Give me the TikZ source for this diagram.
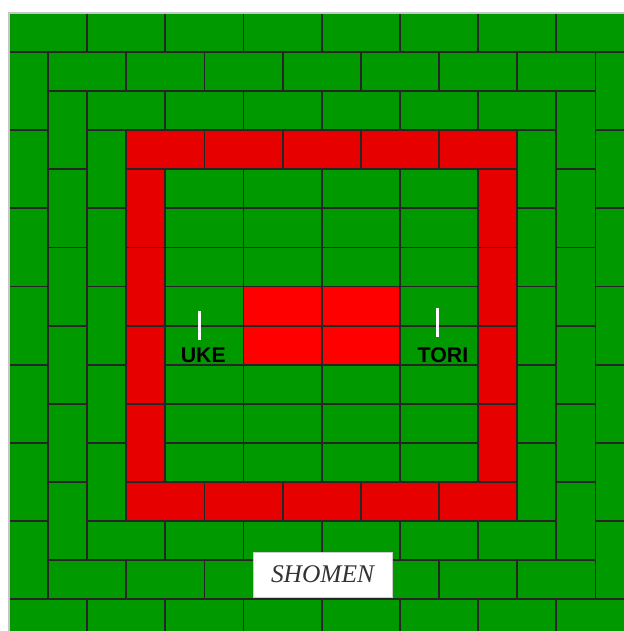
\documentclass[tikz,border=0pt]{standalone}
\usepackage{fontspec}
\setmainfont{Liberation Serif}
\setsansfont{Liberation Sans}
\usepackage{tikz}
\usetikzlibrary{positioning}
\definecolor{matgreen}{HTML}{009900}
\definecolor{ringred}{HTML}{E60000}
\definecolor{centrered}{HTML}{FF0000}

\begin{document}
\begin{tikzpicture}[y=-1cm,
    mat/.style={draw=black!85, line width=1.3pt},
    fighter/.style={fill=white, inner sep=0pt, minimum width=0.08cm, minimum height=0.74cm},
    fightername/.style={font=\sffamily\bfseries\fontsize{15.5}{15.5}\selectfont, inner sep=0pt, anchor=base},
    sign/.style={fill=white, draw=gray!40, line width=0.5pt, minimum width=3.56cm, minimum height=1.15cm,
      font=\itshape\fontsize{18.5}{18.5}\selectfont, text=black!80}]
  \useasboundingbox (-0.23,-0.33) rectangle (15.73,15.81);
  \fill[white] (-0.23,-0.33) rectangle (15.73,15.81);
  \clip (-0.23,-0.33) rectangle (15.73,15.81);
  % rings of mats
  \foreach \k/\c in {0/matgreen, 1/matgreen, 2/matgreen, 3/ringred} {
    \pgfmathtruncatemacro{\n}{7-\k}
    \pgfmathtruncatemacro{\m}{6-\k}
    \foreach \i in {0,...,\n} {
      \draw[mat, fill=\c] (\k+2*\i, \k) rectangle (\k+2*\i+2, \k+1);
      \draw[mat, fill=\c] (\k+2*\i, 15-\k) rectangle (\k+2*\i+2, 16-\k);
    }
    \foreach \i in {0,...,\m} {
      \draw[mat, fill=\c] (\k, \k+1+2*\i) rectangle (\k+1, \k+3+2*\i);
      \draw[mat, fill=\c] (15-\k, \k+1+2*\i) rectangle (16-\k, \k+3+2*\i);
    }
  }
  % inner area
  \foreach \r in {4,...,11}
    \foreach \c in {4,6,8,10}
      \draw[mat, fill=matgreen] (\c, \r) rectangle (\c+2, \r+1);
  \foreach \r in {7,8}
    \foreach \c in {6,8}
      \draw[mat, fill=centrered] (\c, \r) rectangle (\c+2, \r+1);
  \draw[gray!45, line width=1.3pt] (0,16) -- (0,0) -- (16,0);

  \node[fighter] (ukebar) at (4.88,7.99) {};
  \node[fighter] (toribar) at (10.97,7.93) {};
  \node[fightername] (uke) at (4.97,8.93) {UKE};
  \node[fightername] (tori) at (11.1,8.93) {TORI};
  \node[sign] (shomen) at (8.02,14.37) {SHOMEN};
\end{tikzpicture}
\end{document}
